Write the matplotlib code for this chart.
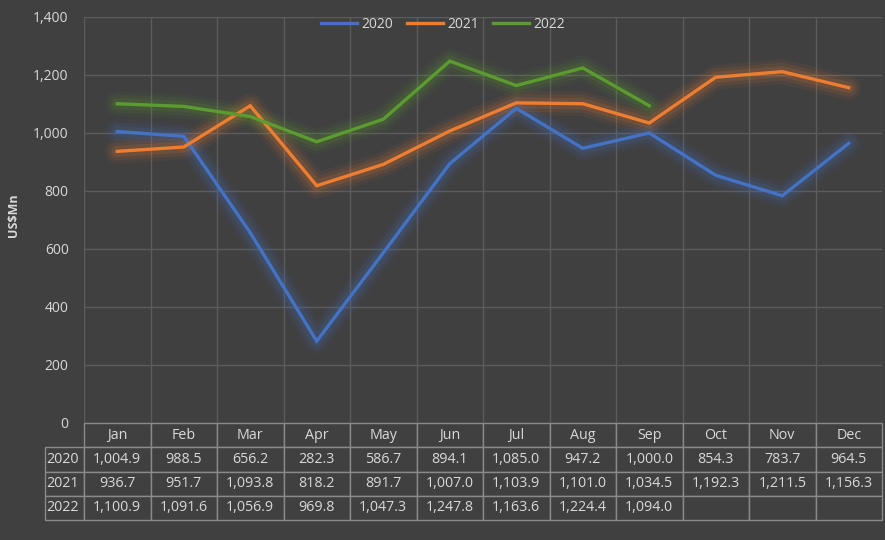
import matplotlib
matplotlib.use("Agg")
import matplotlib.pyplot as plt
import numpy as np

months = ["Jan", "Feb", "Mar", "Apr", "May", "Jun", "Jul", "Aug", "Sep", "Oct", "Nov", "Dec"]
years = ["2020", "2021", "2022"]
v2020 = [1004.9, 988.5, 656.2, 282.3, 586.7, 894.1, 1085.0, 947.2, 1000.0, 854.3, 783.7, 964.5]
v2021 = [936.7, 951.7, 1093.8, 818.2, 891.7, 1007.0, 1103.9, 1101.0, 1034.5, 1192.3, 1211.5, 1156.3]
v2022 = [1100.9, 1091.6, 1056.9, 969.8, 1047.3, 1247.8, 1163.6, 1224.4, 1094.0]
y_ticks = [0, 200, 400, 600, 800, 1000, 1200, 1400]

colors = ["#4472C4", "#ED7D31", "#5B9B2F"]
bg = "#404040"
grid_c = "#5c5c5c"
txt_c = "#d9d9d9"
tbl_edge = "#8a8a8a"

plt.rcParams['font.family'] = ['Open Sans', 'DejaVu Sans']

fig = plt.figure(figsize=(8.85, 5.40), dpi=100, facecolor=bg)
ax = fig.add_axes([84/885, 117/540, 798/885, 406/540])
ax.set_facecolor(bg)

ax.set_xlim(0, 12)
ax.set_ylim(0, 1400)
ax.set_yticks(y_ticks)
ax.set_yticklabels([f"{t:,}" for t in y_ticks])
ax.set_xticks(np.arange(13))
ax.set_xticklabels([])
ax.tick_params(axis='both', length=0, colors=txt_c, labelsize=10)
ax.tick_params(axis='y', pad=11)
ax.grid(True, color=grid_c, linewidth=1)
ax.set_axisbelow(True)
for s in ax.spines.values():
    s.set_visible(False)

series = [v2020, v2021, v2022]
for vals, c, lab in zip(series, colors, years):
    x = np.arange(len(vals)) + 0.5
    for lw, a in [(18, 0.06), (13, 0.09), (8, 0.15)]:
        ax.plot(x, vals, color=c, linewidth=lw, alpha=a, solid_capstyle='round',
                solid_joinstyle='round', zorder=2)
    ax.plot(x, vals, color=c, linewidth=2.4, label=lab, zorder=3,
            solid_joinstyle='miter')

ax.set_ylabel("US$Mn", color=txt_c, fontsize=9, fontweight='bold')
ax.yaxis.set_label_coords((20 - 84) / 798, (423 - 215) / 406)

leg = ax.legend(loc='upper center', bbox_to_anchor=((443 - 84) / 798, 1.03), ncol=3,
                frameon=False, fontsize=10, handlelength=2.6, columnspacing=1.0,
                handletextpad=0.3, labelcolor=txt_c)

# data table
cell_text = []
for vals in series:
    row = [f"{v:,.1f}" for v in vals] + [""] * (12 - len(vals))
    cell_text.append(row)

col_w = 1 / 12
row_lab_w = 39 / 798
tbl = ax.table(cellText=cell_text, rowLabels=years, colLabels=months,
               colWidths=[col_w] * 12,
               cellLoc='center', rowLoc='left', colLoc='center',
               bbox=[0, -97 / 406, 1, 97 / 406])
if hasattr(tbl, "_autoColumns"):
    tbl._autoColumns = [c for c in tbl._autoColumns if c != -1]
tbl.auto_set_font_size(False)
tbl.set_fontsize(10.3)
for (r, c), cell in tbl.get_celld().items():
    cell.set_facecolor(bg)
    cell.set_edgecolor(tbl_edge)
    cell.set_linewidth(1)
    cell.get_text().set_color(txt_c)
    if c == -1:
        cell.set_width(row_lab_w)
        cell.PAD = 0.04

fig.savefig("out.png", dpi=100, facecolor=bg)
